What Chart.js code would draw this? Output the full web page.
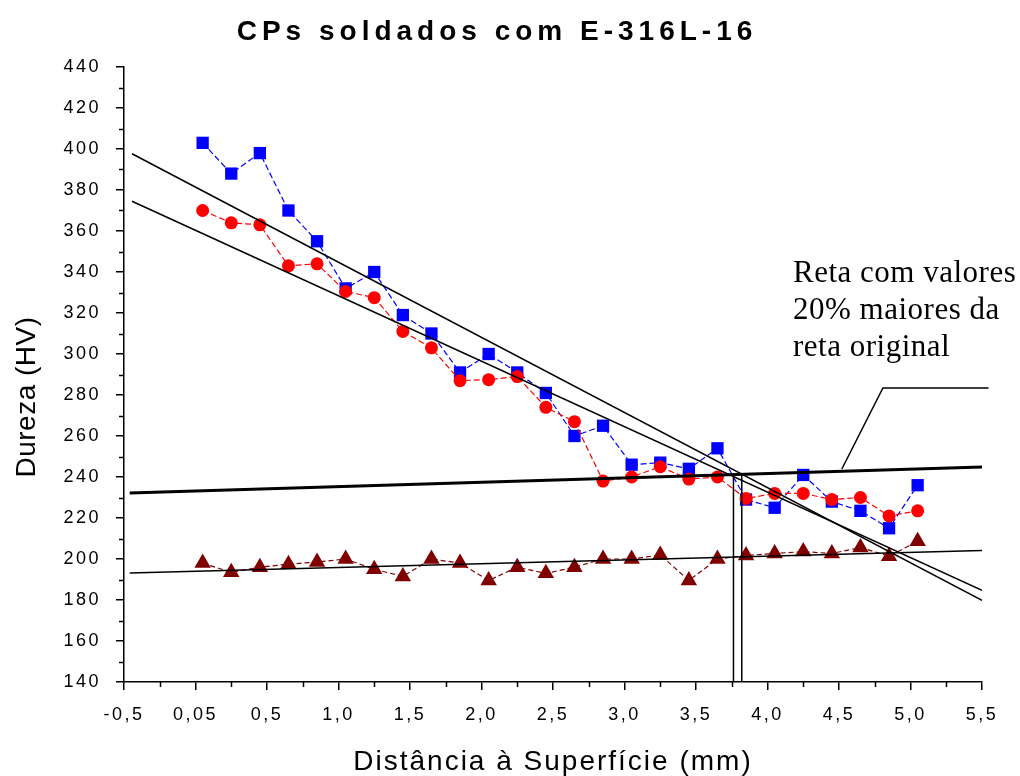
<!DOCTYPE html>
<html><head><meta charset="utf-8">
<script src="https://cdn.jsdelivr.net/npm/chart.js@4/dist/chart.umd.min.js"></script>
<style>html,body{margin:0;padding:0;background:#fff;overflow:hidden}canvas{display:block}</style>
</head><body>
<canvas id="c" width="1020" height="776" style="width:1020px;height:776px"></canvas>
<script>
// ---- data ----
const distances = [0.05,0.25,0.45,0.65,0.85,1.05,1.25,1.45,1.65,1.85,2.05,2.25,2.45,2.65,2.85,3.05,3.25,3.45,3.65,3.85,4.05,4.25,4.45,4.65,4.85,5.05];
const hvBlue = [403,388,398,370,355,332,340,319,310,291,300,291,281,260,265,246,247,244,254,229,225,241,228,223.5,215,236];
const hvRed  = [370,364,363,343,344,330.5,327.5,311,303,287,287.5,289,274,267,238,240,245,239,240,229.5,232,232,229,230,221,223.5];
const hvBase = [198,193.5,196,197.5,198.5,200,195,191.5,200,198,189.5,196,193,196,200,200,202,189.5,200,201.7,202.7,203.6,202.7,205.6,201.4,208.6];

const fitBlueX = [-0.444, 5.5], fitBlueY = [397.7, 179.8];
const fitRedX  = [-0.444, 5.5], fitRedY  = [374.5, 184.7];
const fitBaseX = [-0.46, 5.5],  fitBaseY = [193.2, 204.2];
const fit120X  = [-0.46, 5.5],  fit120Y  = [232.2, 244.9];
const vert1X = [3.762, 3.762], vert1Y = [140, 241.2];
const vert2X = [3.82, 3.82],   vert2Y = [140, 241.3];
const leaderX = [4.52, 4.807, 5.546], leaderY = [243.9, 283.4, 283.4];

const xTickLabels = ['-0,5','0,05','0,5','1,0','1,5','2,0','2,5','3,0','3,5','4,0','4,5','5,0','5,5'];
const yTickValues = [140,160,180,200,220,240,260,280,300,320,340,360,380,400,420,440];

const chartTitle = 'CPs soldados com E-316L-16';
const xTitle = 'Distância à Superfície (mm)';
const yTitle = 'Dureza (HV)';
const noteLines = ['Reta com valores', '20% maiores da', 'reta original'];

// ---- helpers ----
const pts = (xs, ys) => xs.map((x, i) => ({x, y: ys[i]}));

function lineDs(xs, ys, w, clip) {
  const d = {data: pts(xs, ys), showLine: true, borderColor: '#000', borderWidth: w,
    pointRadius: 0, pointHoverRadius: 0, fill: false, tension: 0};
  if (clip === false) d.clip = false;
  return d;
}

const decor = {
  id: 'decor',
  beforeDraw(chart) { chart.ctx.letterSpacing = '2.5px'; },
  afterDraw(chart) {
    const {ctx, chartArea: a} = chart;
    const x = chart.scales.x, y = chart.scales.y;
    ctx.save();
    ctx.letterSpacing = '0px';
    ctx.strokeStyle = '#000';
    ctx.lineWidth = 1.5;
    // minor ticks
    for (let v = 150; v < 440; v += 20) {
      const py = Math.round(y.getPixelForValue(v)) + 0.5;
      ctx.beginPath(); ctx.moveTo(a.left - 5, py); ctx.lineTo(a.left, py); ctx.stroke();
    }
    for (let k = 0; k < 12; k++) {
      const px = Math.round(x.getPixelForValue(-0.25 + 0.5 * k)) + 0.5;
      ctx.beginPath(); ctx.moveTo(px, a.bottom); ctx.lineTo(px, a.bottom + 5); ctx.stroke();
    }
    ctx.fillStyle = '#000';
    // chart title
    ctx.font = 'bold 28px "Liberation Sans", Arial, sans-serif';
    ctx.letterSpacing = '5px';
    ctx.textAlign = 'center';
    ctx.textBaseline = 'alphabetic';
    ctx.fillText(chartTitle, 497, 40);
    // x title
    ctx.font = '28px "Liberation Sans", Arial, sans-serif';
    ctx.letterSpacing = '2px';
    ctx.fillText(xTitle, 553, 770);
    // y title
    ctx.save();
    ctx.translate(35, 397);
    ctx.rotate(-Math.PI / 2);
    ctx.letterSpacing = '0.5px';
    ctx.fillText(yTitle, 0, 0);
    ctx.restore();
    // annotation
    ctx.letterSpacing = '0.5px';
    ctx.textAlign = 'left';
    ctx.font = '31px "Liberation Serif", "Times New Roman", serif';
    const base = [282, 319, 356];
    noteLines.forEach((t, i) => ctx.fillText(t, 793, base[i]));
    ctx.restore();
  }
};

new Chart(document.getElementById('c'), {
  type: 'scatter',
  data: {
    datasets: [
      lineDs(fitBlueX, fitBlueY, 1.5),
      lineDs(fitRedX, fitRedY, 1.5),
      lineDs(fitBaseX, fitBaseY, 1.5),
      lineDs(fit120X, fit120Y, 3),
      lineDs(vert1X, vert1Y, 1.5),
      lineDs(vert2X, vert2Y, 1.5),
      lineDs(leaderX, leaderY, 1.5, false),
      {data: pts(distances, hvBase), showLine: true, borderColor: '#800000', borderWidth: 1.2,
        borderDash: [5, 3], pointStyle: 'triangle', pointRadius: 9.5, pointBackgroundColor: '#800000',
        pointBorderColor: '#800000', pointBorderWidth: 0},
      {data: pts(distances, hvRed), showLine: true, borderColor: '#ff0000', borderWidth: 1.2,
        borderDash: [6, 3], pointStyle: 'circle', pointRadius: 6.5, pointBackgroundColor: '#ff0000',
        pointBorderColor: '#ff0000', pointBorderWidth: 0},
      {data: pts(distances, hvBlue), showLine: true, borderColor: '#0000ff', borderWidth: 1.2,
        borderDash: [6, 3], pointStyle: 'rect', pointRadius: 8.7, pointBackgroundColor: '#0000ff',
        pointBorderColor: '#0000ff', pointBorderWidth: 0}
    ]
  },
  options: {
    responsive: false,
    devicePixelRatio: 1,
    animation: false,
    events: [],
    layout: {padding: {left: 0, right: 38, top: 67, bottom: 0}},
    plugins: {legend: {display: false}, tooltip: {enabled: false}, title: {display: false}},
    scales: {
      x: {
        type: 'linear', min: -0.5, max: 5.5,
        afterFit(s) { s.height = 94; s.paddingLeft = 0; s.paddingRight = 0; s.paddingTop = 0; s.paddingBottom = 0; },
        afterBuildTicks(s) { s.ticks = xTickLabels.map((_, i) => ({value: -0.5 + 0.5 * i})); },
        ticks: {
          autoSkip: false, maxRotation: 0, padding: 14, color: '#000',
          font: {family: '"Liberation Sans", Arial, sans-serif', size: 18},
          callback: (v) => xTickLabels[Math.round((v + 0.5) / 0.5)]
        },
        grid: {display: true, drawOnChartArea: false, drawTicks: true, tickLength: 8, color: '#000', lineWidth: 1.5},
        border: {display: true, color: '#000', width: 1.5}
      },
      y: {
        type: 'linear', min: 140, max: 440,
        afterFit(s) { s.width = 124; s.paddingLeft = 0; s.paddingRight = 0; s.paddingTop = 0; s.paddingBottom = 0; },
        afterBuildTicks(s) { s.ticks = yTickValues.map(v => ({value: v})); },
        ticks: {
          autoSkip: false, padding: 15, color: '#000',
          font: {family: '"Liberation Sans", Arial, sans-serif', size: 18},
          callback: (v) => String(v)
        },
        grid: {display: true, drawOnChartArea: false, drawTicks: true, tickLength: 8, color: '#000', lineWidth: 1.5},
        border: {display: true, color: '#000', width: 1.5}
      }
    }
  },
  plugins: [decor]
});
</script>
</body></html>
